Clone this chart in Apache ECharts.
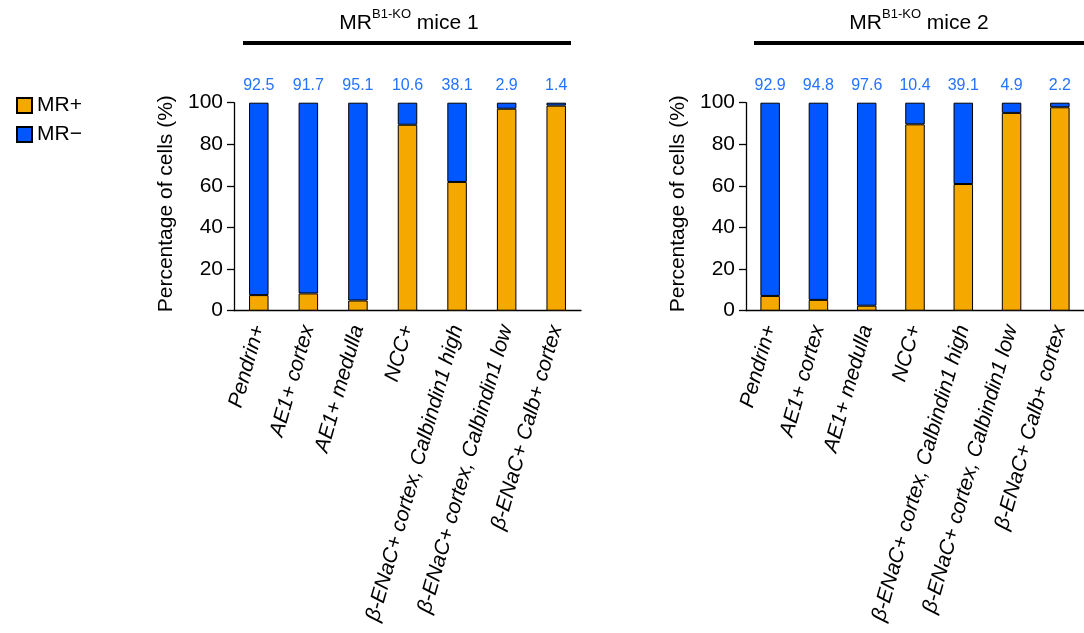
<!DOCTYPE html>
<html>
<head>
<meta charset="utf-8">
<script src="https://cdn.jsdelivr.net/npm/echarts@6/dist/echarts.min.js"></script>
<style>html,body{margin:0;padding:0;background:#fff;}#c{width:1084px;height:633px;}</style>
</head>
<body>
<div id="c"></div>
<script>
const categories = ['Pendrin+', 'AE1+ cortex', 'AE1+ medulla', 'NCC+', 'β-ENaC+ cortex, Calbindin1 high', 'β-ENaC+ cortex, Calbindin1 low', 'β-ENaC+ Calb+ cortex'];
const mrPos1 = [7.5, 8.3, 4.9, 89.4, 61.9, 97.1, 98.6];
const mrNeg1 = [92.5, 91.7, 95.1, 10.6, 38.1, 2.9, 1.4];
const mrPos2 = [7.1, 5.2, 2.4, 89.6, 60.9, 95.1, 97.8];
const mrNeg2 = [92.9, 94.8, 97.6, 10.4, 39.1, 4.9, 2.2];
const yTicks = [0, 20, 40, 60, 80, 100];
const panelTitles = ['mice 1', 'mice 2'];

const FONT = 'Liberation Sans, Arial, sans-serif';
const ORANGE = '#f5a800';
const BLUE = '#0057ff';
const LABEL_BLUE = '#2373ff';

const chart = echarts.init(document.getElementById('c'), null, {renderer: 'canvas'});

function yAxis(gi) {
  return {
    gridIndex: gi, type: 'value', min: yTicks[0], max: yTicks[yTicks.length - 1], interval: 20,
    name: 'Percentage of cells (%)', nameLocation: 'middle', nameGap: 57,
    nameTextStyle: {fontFamily: FONT, fontSize: 21, color: '#000', padding: [0, 0, 0, 6]},
    axisLine: {show: true, lineStyle: {color: '#000', width: 1.3}},
    axisTick: {show: true, length: 7, lineStyle: {color: '#000', width: 1.3}},
    axisLabel: {fontFamily: FONT, fontSize: 21, color: '#000', margin: 11},
    splitLine: {show: false}
  };
}
function xAxis(gi) {
  return {
    gridIndex: gi, type: 'category', data: categories,
    axisLine: {show: true, lineStyle: {color: '#000', width: 1.3}},
    axisTick: {show: false},
    axisLabel: {fontFamily: FONT, fontSize: 21, fontStyle: 'italic', color: '#000', rotate: 74, margin: 15, interval: 0}
  };
}
function bars(gi, pos, neg) {
  const common = {type: 'bar', stack: 's' + gi, xAxisIndex: gi, yAxisIndex: gi, barWidth: 19.5};
  return [
    Object.assign({}, common, {name: 'MR+', data: pos,
      itemStyle: {color: ORANGE, borderColor: '#000', borderWidth: 1}}),
    Object.assign({}, common, {name: 'MR\u2212', data: neg,
      itemStyle: {color: BLUE, borderColor: '#000', borderWidth: 1},
      label: {show: true, position: 'top', distance: 9, color: LABEL_BLUE, fontFamily: FONT, fontSize: 16,
        formatter: p => neg[p.dataIndex].toFixed(1)}})
  ];
}
function titleText(cx, label) {
  return {
    type: 'text', x: cx, y: 21,
    style: {
      text: '{a|MR}{b|B1-KO}{a| ' + label + '}',
      align: 'center', verticalAlign: 'middle',
      rich: {
        a: {fontFamily: FONT, fontSize: 21, color: '#000', lineHeight: 26, verticalAlign: 'bottom'},
        b: {fontFamily: FONT, fontSize: 13, color: '#000', lineHeight: 26, verticalAlign: 'top'}
      }
    }
  };
}

chart.setOption({
  animation: false,
  backgroundColor: '#fff',
  textStyle: {fontFamily: FONT},
  legend: {
    data: ['MR+', 'MR\u2212'], orient: 'vertical', left: 11, top: 90,
    itemWidth: 15, itemHeight: 15, itemGap: 8, icon: 'rect',
    textStyle: {fontFamily: FONT, fontSize: 21, color: '#000'}
  },
  grid: [
    {left: 234, top: 102.7, width: 347, height: 208},
    {left: 746, top: 102.7, width: 346.5, height: 208}
  ],
  xAxis: [xAxis(0), xAxis(1)],
  yAxis: [yAxis(0), yAxis(1)],
  series: [].concat(bars(0, mrPos1, mrNeg1), bars(1, mrPos2, mrNeg2)),
  graphic: [
    titleText(409, panelTitles[0]),
    titleText(919, panelTitles[1]),
    {type: 'rect', shape: {x: 243, y: 41, width: 328, height: 4}, style: {fill: '#000'}},
    {type: 'rect', shape: {x: 754, y: 41, width: 330, height: 4}, style: {fill: '#000'}}
  ]
});
</script>
</body>
</html>
